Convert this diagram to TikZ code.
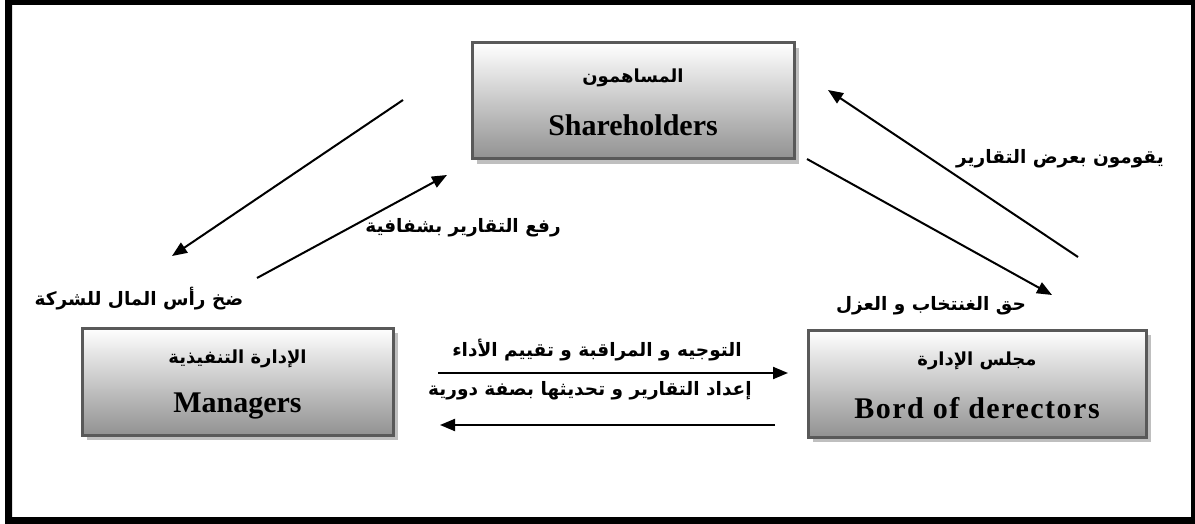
\documentclass[tikz,border=0pt]{standalone}
\usepackage{fontspec}
\usetikzlibrary{arrows.meta,shadows}
\TeXXeTstate=1
\newfontfamily\arabicfont[Script=Arabic]{DejaVu Sans}
\newfontfamily\latinfont{Liberation Serif}
\newfontfamily\latinwide[LetterSpace=5]{Liberation Serif}

\begin{document}
\begin{tikzpicture}[x=1pt,y=-1pt,
  entity/.style={draw=black!65, line width=3pt, top color=white, bottom color=black!43,
    drop shadow={shadow xshift=5pt, shadow yshift=-5pt, fill=black!25, opacity=1},
    inner sep=0pt},
  artitle/.style={font=\arabicfont\bfseries\fontsize{18}{21}\selectfont, inner sep=0pt},
  entitle/.style={font=\latinfont\bfseries\fontsize{30}{34}\selectfont, inner sep=0pt},
  flowlabel/.style={font=\arabicfont\bfseries\fontsize{18.5}{22}\selectfont, inner sep=0pt},
  flow/.style={line width=2pt, -{Triangle[length=15pt,width=12pt]}}]
\useasboundingbox (0,0) rectangle (1195,524);

% outer frame
\fill[black, even odd rule] (5,0) rectangle (1195,524) (12,5) rectangle (1191,517);

% the three parties
\node[entity, minimum width=322pt, minimum height=116pt] (sh) at (633,101) {};
\node[entity, minimum width=311pt, minimum height=107pt] (mg) at (237.5,381.5) {};
\node[entity, minimum width=338pt, minimum height=107pt] (bd) at (977,383.5) {};

\node[artitle] (shar) at (633,78) {\beginR المساهمون\endR};
\node[entitle] (shen) at (633,125) {Shareholders};
\node[artitle] (mgar) at (237.5,359) {\beginR الإدارة التنفيذية\endR};
\node[entitle] (mgen) at (237.5,406) {Managers};
\node[artitle] (bdar) at (977,361) {\beginR مجلس الإدارة\endR};
\node[entitle, font=\latinwide\bfseries\fontsize{30}{34}\selectfont] (bden) at (977,408) {Bord of derectors};

% end points of the flows
\coordinate (a1s) at (403,100);  \coordinate (a1e) at (172,256);
\coordinate (a2s) at (257,278);  \coordinate (a2e) at (447,175);
\coordinate (a3s) at (807,159);  \coordinate (a3e) at (1052,295);
\coordinate (a4s) at (1078,257); \coordinate (a4e) at (828,90);
\coordinate (a5s) at (438,373);  \coordinate (a5e) at (788,373);
\coordinate (a6s) at (775,425);  \coordinate (a6e) at (440,425);

\draw[flow] (a1s) -- (a1e);
\draw[flow] (a2s) -- (a2e);
\draw[flow] (a3s) -- (a3e);
\draw[flow] (a4s) -- (a4e);
\draw[flow] (a5s) -- (a5e);
\draw[flow] (a6s) -- (a6e);

% flow labels
\node[flowlabel] (l1) at (139,299) {\beginR ضخ رأس المال للشركة\endR};
\node[flowlabel] (l2) at (463,228) {\beginR رفع التقارير بشفافية\endR};
\node[flowlabel] (l3) at (1060,159) {\beginR يقومون بعرض التقارير\endR};
\node[flowlabel] (l4) at (931,306) {\beginR حق الغنتخاب و العزل\endR};
\node[flowlabel] (l5) at (597,350) {\beginR التوجيه و المراقبة و تقييم الأداء\endR};
\node[flowlabel] (l6) at (590,391) {\beginR إعداد التقارير و تحديثها بصفة دورية\endR};
\end{tikzpicture}
\end{document}
